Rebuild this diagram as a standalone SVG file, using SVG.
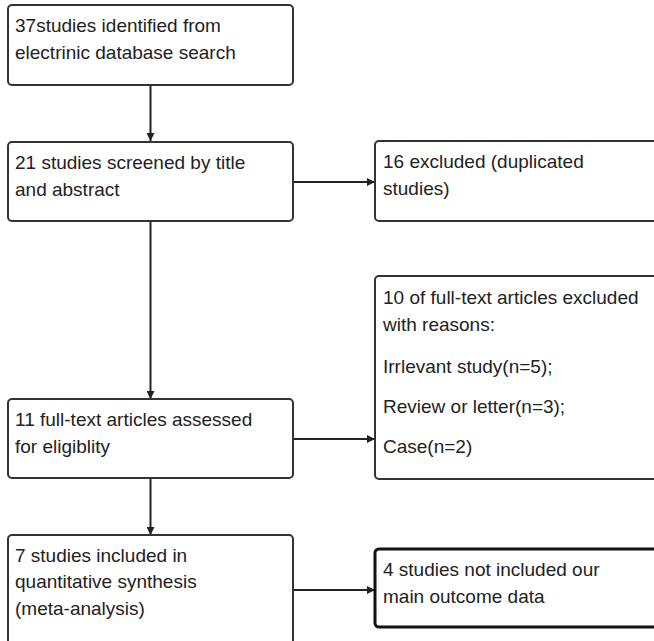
<svg xmlns="http://www.w3.org/2000/svg" width="654" height="641" viewBox="0 0 654 641">
<style>
.box{fill:#fff;stroke:#333;stroke-width:2}
.bold{fill:#fff;stroke:#111;stroke-width:3}
text{font-family:"Liberation Sans",Arial,sans-serif;font-size:19px;fill:#222}
.conn{stroke:#222;stroke-width:2;fill:none}
</style>
<defs>
<marker id="ah" viewBox="0 0 10 10" refX="10" refY="5" markerWidth="4" markerHeight="4" orient="auto" markerUnits="strokeWidth">
<path d="M0,0 L10,5 L0,10 Z" fill="#222"/>
</marker>
</defs>
<rect width="654" height="641" fill="#fff"/>
<g id="connectors">
<line class="conn" x1="150.5" y1="85" x2="150.5" y2="141" marker-end="url(#ah)"/>
<line class="conn" x1="150.5" y1="221" x2="150.5" y2="399" marker-end="url(#ah)"/>
<line class="conn" x1="150.5" y1="478" x2="150.5" y2="535" marker-end="url(#ah)"/>
<line class="conn" x1="293" y1="182" x2="375" y2="182" marker-end="url(#ah)"/>
<line class="conn" x1="293" y1="439" x2="375" y2="439" marker-end="url(#ah)"/>
<line class="conn" x1="293" y1="590" x2="375" y2="590" marker-end="url(#ah)"/>
</g>
<g id="n1">
<rect class="box" x="8" y="5" width="285" height="80" rx="4"/>
<text x="15" y="32">37studies identified from</text>
<text x="15" y="59">electrinic database search</text>
</g>
<g id="n2">
<rect class="box" x="8" y="142" width="285" height="79" rx="4"/>
<text x="15" y="169">21 studies screened by title</text>
<text x="15" y="196">and abstract</text>
</g>
<g id="n3">
<rect class="box" x="375" y="141" width="290" height="80" rx="4"/>
<text x="383" y="168">16 excluded (duplicated</text>
<text x="383" y="195">studies)</text>
</g>
<g id="n4">
<rect class="box" x="375" y="276" width="290" height="203" rx="4"/>
<text x="383" y="304">10 of full-text articles excluded</text>
<text x="383" y="331">with reasons:</text>
<text x="383" y="373">Irrlevant study(n=5);</text>
<text x="383" y="413">Review or letter(n=3);</text>
<text x="383" y="453">Case(n=2)</text>
</g>
<g id="n5">
<rect class="box" x="8" y="399" width="285" height="79" rx="4"/>
<text x="15" y="426">11 full-text articles assessed</text>
<text x="15" y="453">for eligiblity</text>
</g>
<g id="n6">
<rect class="box" x="8" y="535" width="285" height="115" rx="4"/>
<text x="15" y="562">7 studies included in</text>
<text x="15" y="588">quantitative synthesis</text>
<text x="15" y="615">(meta-analysis)</text>
</g>
<g id="n7">
<rect class="bold" x="375" y="549" width="290" height="78" rx="4"/>
<text x="383" y="576">4 studies not included our</text>
<text x="383" y="603">main outcome data</text>
</g>
</svg>
